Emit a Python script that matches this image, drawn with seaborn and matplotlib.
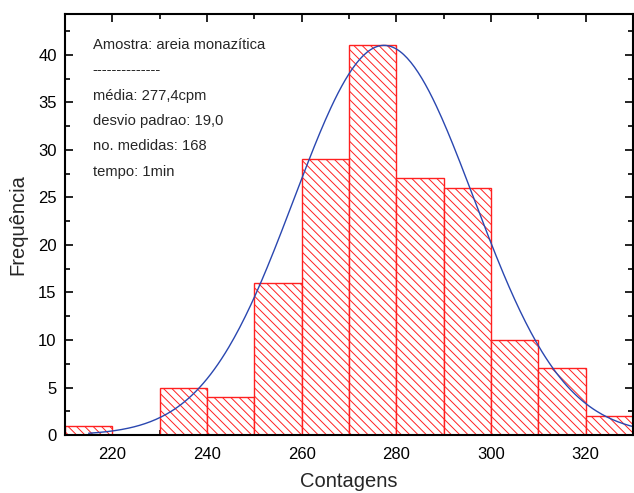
import numpy as np
import pandas as pd
import matplotlib
matplotlib.use("Agg")
import matplotlib.pyplot as plt
import seaborn as sns
from matplotlib.ticker import MultipleLocator

# ---- data ----
bin_edges = [210, 220, 230, 240, 250, 260, 270, 280, 290, 300, 310, 320, 330]
counts = [1, 0, 5, 4, 16, 29, 41, 27, 26, 10, 7, 2]
fit_amplitude = 41.0
fit_mean = 277.4
fit_sd = 19.0
fit_x_start = 215
fit_x_end = 330
info_lines = ["Amostra: areia monazítica",
              "--------------",
              "média: 277,4cpm",
              "desvio padrao: 19,0",
              "no. medidas: 168",
              "tempo: 1min"]

sns.set_style("ticks")
plt.rcParams['font.family'] = ['Liberation Sans', 'DejaVu Sans']
plt.rcParams['hatch.linewidth'] = 0.7
plt.rcParams['hatch.color'] = '#ff2020'

fig = plt.figure(figsize=(6.34, 4.93), dpi=100)
ax = fig.add_axes([0.1025, 0.1176, 0.8959, 0.854])

centers = [(a + b) / 2 for a, b in zip(bin_edges[:-1], bin_edges[1:])]
df = pd.DataFrame({"x": centers, "w": counts})
sns.histplot(data=df, x="x", weights="w", bins=bin_edges, ax=ax,
             color="white", edgecolor="#ff2020", linewidth=1.0, alpha=1.0)
for p in ax.patches:
    p.set_facecolor("white")
    p.set_edgecolor("#ff2020")
    p.set_hatch("\\\\\\\\")

xs = np.linspace(fit_x_start, fit_x_end, 300)
ys = fit_amplitude * np.exp(-(xs - fit_mean) ** 2 / (2 * fit_sd ** 2))
sns.lineplot(x=xs, y=ys, ax=ax, color="#2a47b0", linewidth=1.0)

ax.set_xlim(210, 330)
ax.set_ylim(0, 44.3)
ax.xaxis.set_major_locator(MultipleLocator(20))
ax.xaxis.set_minor_locator(MultipleLocator(10))
ax.yaxis.set_major_locator(MultipleLocator(5))
ax.yaxis.set_minor_locator(MultipleLocator(2.5))
ax.tick_params(which="both", direction="in", top=True, right=True,
               labelsize=12, width=1.2, colors="black", pad=6)
ax.tick_params(axis="x", which="both", pad=8.5)
ax.tick_params(which="major", length=6)
ax.tick_params(which="minor", length=3.5)
for s in ax.spines.values():
    s.set_visible(True)
    s.set_linewidth(1.5)
    s.set_color("black")

ax.set_xlabel("Contagens", fontsize=14.5, labelpad=7.5)
ax.set_ylabel("Frequência", fontsize=14.5, labelpad=8)

y0 = 0.926
dy = 25.3 / 421
for i, t in enumerate(info_lines):
    ax.text(0.049, y0 - i * dy, t, transform=ax.transAxes, fontsize=10.6,
            va="center", ha="left")

fig.savefig("out.png", dpi=100)
